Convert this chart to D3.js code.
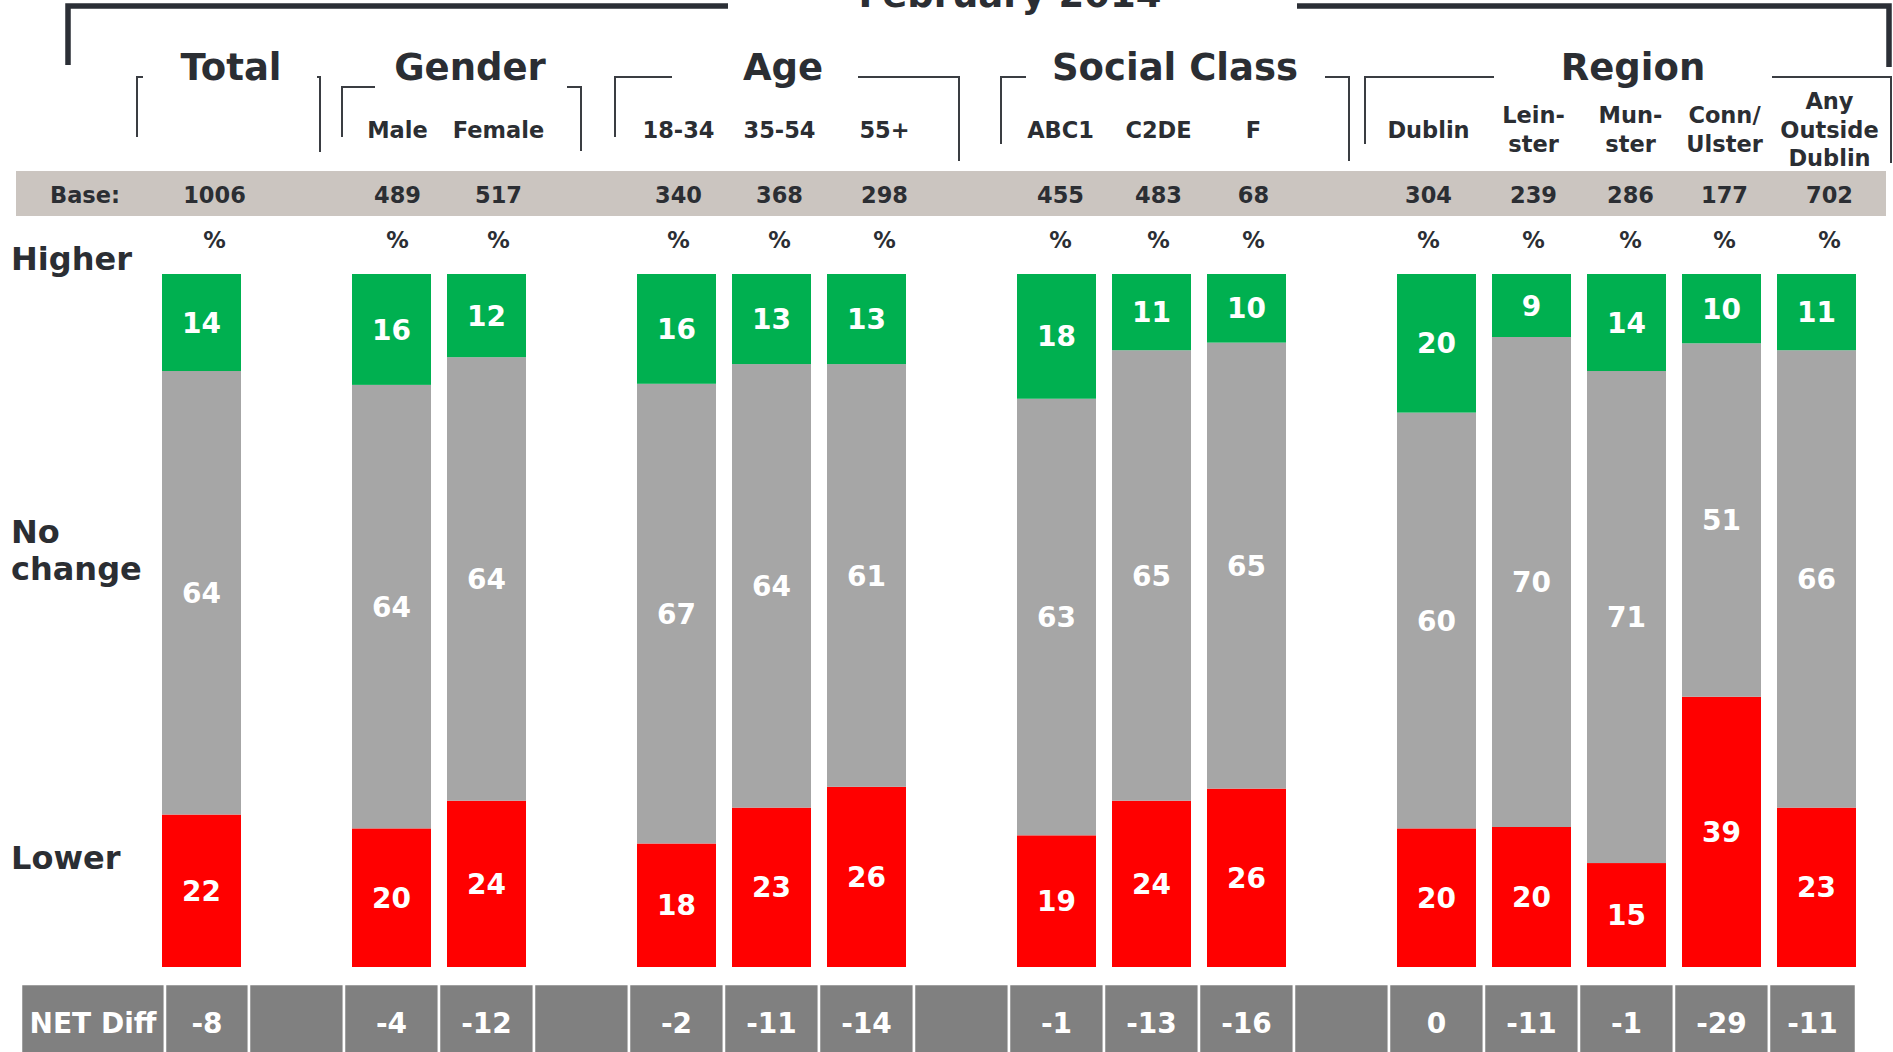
<!DOCTYPE html>
<html>
<head>
<meta charset="utf-8">
<script src="https://cdn.jsdelivr.net/npm/d3@7/dist/d3.min.js"></script>
<style>
body { margin: 0; background: #fff; }
text { font-family: "DejaVu Sans", Verdana, sans-serif; font-weight: bold; }
</style>
</head>
<body>
<div id="chart"></div>
<script>
var width = 1893, height = 1052;
var textColour = "#2b2e33";
var lineColour = "#3a3d42";

// One entry per bar. slot = position in the row, empty slots are the gaps between groups.
// dx = how far the header table column sits off the bar centre.
var columns = [
    {slot: 0,  label: [],                        base: 1006, higher: 14, nochange: 64, lower: 22, net: -8,  dx: 13},
    {slot: 2,  label: ["Male"],                  base: 489,  higher: 16, nochange: 64, lower: 20, net: -4,  dx: 6},
    {slot: 3,  label: ["Female"],                base: 517,  higher: 12, nochange: 64, lower: 24, net: -12, dx: 12},
    {slot: 5,  label: ["18-34"],                 base: 340,  higher: 16, nochange: 67, lower: 18, net: -2,  dx: 2},
    {slot: 6,  label: ["35-54"],                 base: 368,  higher: 13, nochange: 64, lower: 23, net: -11, dx: 8},
    {slot: 7,  label: ["55+"],                   base: 298,  higher: 13, nochange: 61, lower: 26, net: -14, dx: 18},
    {slot: 9,  label: ["ABC1"],                  base: 455,  higher: 18, nochange: 63, lower: 19, net: -1,  dx: 4},
    {slot: 10, label: ["C2DE"],                  base: 483,  higher: 11, nochange: 65, lower: 24, net: -13, dx: 7},
    {slot: 11, label: ["F"],                     base: 68,   higher: 10, nochange: 65, lower: 26, net: -16, dx: 7},
    {slot: 13, label: ["Dublin"],                base: 304,  higher: 20, nochange: 60, lower: 20, net: 0,   dx: -8},
    {slot: 14, label: ["Lein-", "ster"],         base: 239,  higher: 9,  nochange: 70, lower: 20, net: -11, dx: 2},
    {slot: 15, label: ["Mun-", "ster"],          base: 286,  higher: 14, nochange: 71, lower: 15, net: -1,  dx: 4},
    {slot: 16, label: ["Conn/", "Ulster"],       base: 177,  higher: 10, nochange: 51, lower: 39, net: -29, dx: 3},
    {slot: 17, label: ["Any", "Outside", "Dublin"], base: 702, higher: 11, nochange: 66, lower: 23, net: -11, dx: 13}
];

// Group headings and the thin brackets around them (header table layout, in px)
var groups = [
    {name: "Total",        cx: 231,  top: 77, left: 137,  leftEnd: 143,  rightStart: 317,  right: 320,  leftBottom: 137, rightBottom: 152},
    {name: "Gender",       cx: 470,  top: 87, left: 342,  leftEnd: 375,  rightStart: 567,  right: 581,  leftBottom: 137, rightBottom: 151},
    {name: "Age",          cx: 783,  top: 77, left: 615,  leftEnd: 672,  rightStart: 858,  right: 959,  leftBottom: 137, rightBottom: 161},
    {name: "Social Class", cx: 1175, top: 77, left: 1001, leftEnd: 1026, rightStart: 1325, right: 1349, leftBottom: 144, rightBottom: 161},
    {name: "Region",       cx: 1633, top: 77, left: 1365, leftEnd: 1494, rightStart: 1772, right: 1891, leftBottom: 144, rightBottom: 163}
];

var keys = ["lower", "nochange", "higher"];
var colours = {higher: "#00b050", nochange: "#a6a6a6", lower: "#ff0000"};

var svg = d3.select("#chart").append("svg")
    .attr("width", width)
    .attr("height", height);

// Set the ranges
var x = d3.scaleBand()
    .domain(d3.range(18))
    .range([154, 154 + 18 * 95])
    .paddingInner(16 / 95)
    .paddingOuter(8 / 95);
var y = d3.scaleLinear().domain([0, 1]).range([967, 274]);

// 100% stacked
var series = d3.stack().keys(keys).offset(d3.stackOffsetExpand)(columns);

// Top bracket with the title
svg.append("path")
    .attr("d", "M68,65V6H728M1297,6H1889V67")
    .attr("fill", "none")
    .attr("stroke", "#2b2f36")
    .attr("stroke-width", 5.5);

svg.append("text")
    .attr("x", 1010)
    .attr("y", 7)
    .attr("text-anchor", "middle")
    .style("font-size", "37px")
    .attr("fill", textColour)
    .text("February 2014");

// Group headings
svg.selectAll(".group")
    .data(groups)
    .enter().append("text")
        .attr("class", "group")
        .attr("x", function(d) { return d.cx; })
        .attr("y", 80)
        .attr("text-anchor", "middle")
        .style("font-size", "37px")
        .attr("fill", textColour)
        .text(function(d) { return d.name; });

svg.selectAll(".bracket")
    .data(groups)
    .enter().append("path")
        .attr("class", "bracket")
        .attr("d", function(d) {
            return "M" + d.left + "," + d.leftBottom + "V" + d.top + "H" + d.leftEnd +
                   "M" + d.rightStart + "," + d.top + "H" + d.right + "V" + d.rightBottom;
        })
        .attr("fill", "none")
        .attr("stroke", lineColour)
        .attr("stroke-width", 2);

function colX(d) { return x(d.slot) + x.bandwidth() / 2 + d.dx; }

// Column labels
var labels = svg.selectAll(".collabel")
    .data(columns)
    .enter().append("text")
        .attr("class", "collabel")
        .attr("text-anchor", "middle")
        .style("font-size", "22.5px")
        .attr("fill", textColour);

labels.selectAll("tspan")
    .data(function(d) {
        return d.label.map(function(t, i) {
            return {t: t, x: colX(d), y: 137.5 - (d.label.length - 1) * 28.5 / 2 + i * 28.5};
        });
    })
    .enter().append("tspan")
        .attr("x", function(d) { return d.x; })
        .attr("y", function(d) { return d.y; })
        .text(function(d) { return d.t; });

// Base row
svg.append("rect")
    .attr("x", 16)
    .attr("y", 171)
    .attr("width", 1870)
    .attr("height", 45)
    .attr("fill", "#cbc5c0");

svg.append("text")
    .attr("x", 85)
    .attr("y", 203)
    .attr("text-anchor", "middle")
    .style("font-size", "22.5px")
    .attr("fill", textColour)
    .text("Base:");

svg.selectAll(".base")
    .data(columns)
    .enter().append("text")
        .attr("class", "base")
        .attr("x", colX)
        .attr("y", 203)
        .attr("text-anchor", "middle")
        .style("font-size", "22.5px")
        .attr("fill", textColour)
        .text(function(d) { return d.base; });

svg.selectAll(".pct")
    .data(columns)
    .enter().append("text")
        .attr("class", "pct")
        .attr("x", colX)
        .attr("y", 248)
        .attr("text-anchor", "middle")
        .style("font-size", "22.5px")
        .attr("fill", textColour)
        .text("%");

// Row labels on the left
var rowLabels = [
    {t: "Higher", y: 270},
    {t: "No", y: 543},
    {t: "change", y: 580},
    {t: "Lower", y: 869}
];
svg.selectAll(".rowlabel")
    .data(rowLabels)
    .enter().append("text")
        .attr("class", "rowlabel")
        .attr("x", 11)
        .attr("y", function(d) { return d.y; })
        .style("font-size", "32px")
        .attr("fill", textColour)
        .text(function(d) { return d.t; });

// Stacked bars
var layer = svg.selectAll(".layer")
    .data(series)
    .enter().append("g")
        .attr("class", "layer")
        .attr("fill", function(d) { return colours[d.key]; });

layer.selectAll("rect")
    .data(function(d) { return d; })
    .enter().append("rect")
        .attr("x", function(d) { return x(d.data.slot); })
        .attr("y", function(d) { return y(d[1]); })
        .attr("width", x.bandwidth())
        .attr("height", function(d) { return y(d[0]) - y(d[1]); });

layer.selectAll("text")
    .data(function(d) { return d.map(function(p) { p.key = d.key; return p; }); })
    .enter().append("text")
        .attr("x", function(d) { return x(d.data.slot) + x.bandwidth() / 2; })
        .attr("y", function(d) { return (y(d[0]) + y(d[1])) / 2; })
        .attr("dy", "0.36em")
        .attr("text-anchor", "middle")
        .style("font-size", "28px")
        .attr("fill", "#fff")
        .text(function(d) { return d.data[d.key]; });

// NET Diff row: one cell per slot, empty slots stay blank
var pad = x.step() - x.bandwidth();
var cells = d3.range(18).map(function(i) {
    var col = columns.find(function(c) { return c.slot === i; });
    var x0 = i === 0 ? x(0) + 3 : x(i) - pad / 2;
    var x1 = i === 17 ? x(i) + x.bandwidth() : x(i) + x.bandwidth() + pad / 2;
    return {x0: x0, x1: x1, text: col ? col.net : ""};
});
cells.unshift({x0: 21, x1: x(0) + 3, text: "NET Diff"});

svg.selectAll(".cell")
    .data(cells)
    .enter().append("rect")
        .attr("class", "cell")
        .attr("x", function(d) { return d.x0; })
        .attr("y", 984)
        .attr("width", function(d) { return d.x1 - d.x0; })
        .attr("height", 90)
        .attr("fill", "#808080")
        .attr("stroke", "#fff")
        .attr("stroke-width", 2.5);

svg.selectAll(".celltext")
    .data(cells)
    .enter().append("text")
        .attr("class", "celltext")
        .attr("x", function(d) { return (d.x0 + d.x1) / 2; })
        .attr("y", 1033)
        .attr("text-anchor", "middle")
        .style("font-size", "28px")
        .attr("fill", "#fff")
        .text(function(d) { return d.text; });
</script>
</body>
</html>
